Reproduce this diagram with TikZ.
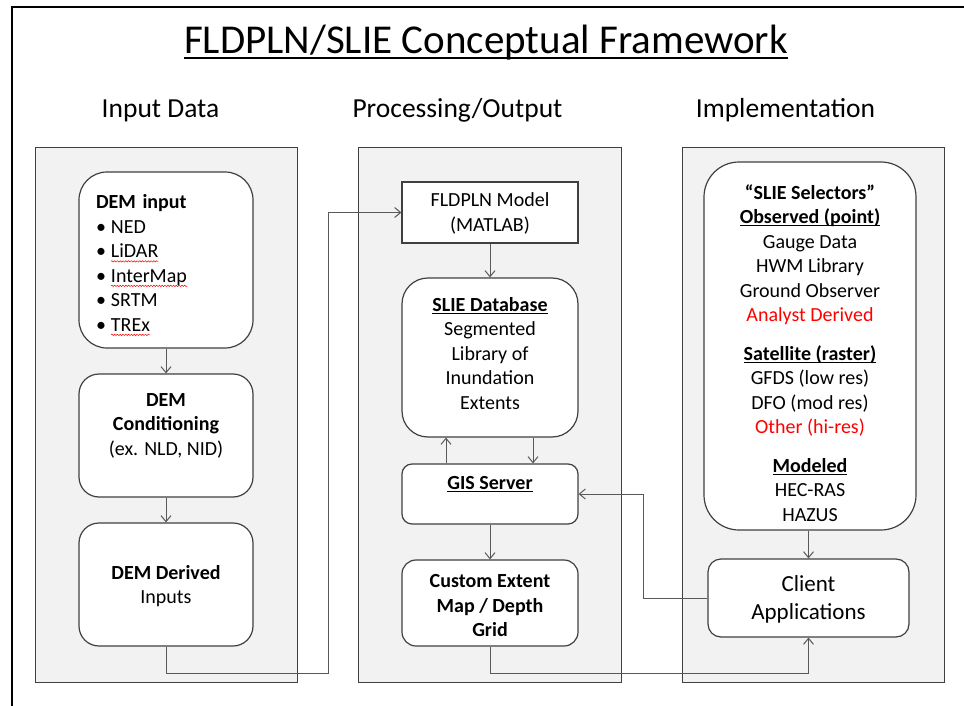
\documentclass[tikz,border=0pt]{standalone}
\usepackage{fontspec}
\setmainfont{Carlito}
\usetikzlibrary{arrows.meta,decorations.pathmorphing}
\definecolor{panelfill}{HTML}{F2F2F2}
\definecolor{edgec}{HTML}{404040}
\definecolor{connc}{HTML}{595959}
\newlength\wavelen
\newcommand\ulx[1]{\leavevmode\setbox0\hbox{#1}\rlap{\rule[-2.6pt]{\wd0}{1.1pt}}\box0}
\newcommand\ultitle[1]{\leavevmode\setbox0\hbox{#1}\rlap{\rule[-5.5pt]{\wd0}{2pt}}\box0}
\newcommand\redwave[1]{\leavevmode\setbox0\hbox{#1}\setlength\wavelen{\wd0}\rlap{\tikz[overlay,baseline=0pt]\draw[red,line width=0.5pt,decorate,decoration={snake,amplitude=0.7pt,segment length=2.8pt}] (0pt,-3.6pt) -- (\wavelen,-3.6pt);}\box0}
\newcommand\bul{\mbox{•}\hspace{5pt}}
\begin{document}
\begin{tikzpicture}[x=1pt,y=-1pt,
  box/.style={draw=edgec, line width=1.2pt, fill=white, inner sep=0pt},
  txt/.style={inner sep=0pt, align=center, font=\fontsize{20}{24.5}\selectfont},
  panel/.style={draw=edgec, line width=0.9pt, fill=panelfill, inner sep=0pt},
  conn/.style={draw=connc, line width=1pt, -{Straight Barb[length=6pt,width=10pt]}},
  heading/.style={font=\fontsize{27.5}{33}\selectfont, anchor=base, inner sep=0pt},
]
\useasboundingbox (0,0) rectangle (964,706);
\fill[white] (0,0) rectangle (964,706);
\draw[line width=2.6pt] (966,7) -- (12,7) -- (12,708);

% title and headings
\node[font=\fontsize{41}{49}\selectfont, anchor=base, inner sep=0pt] (title) at (486,54) {\ultitle{FLDPLN/SLIE Conceptual Framework}};
\node[heading] (hin) at (160.5,118) {Input Data};
\node[heading] (hproc) at (457.5,118) {Processing/Output};
\node[heading] (himp) at (785.5,118) {Implementation};

% panels
\node[panel, minimum width=262, minimum height=535] (pin) at (166,414.5) {};
\node[panel, minimum width=263, minimum height=535] (pproc) at (489.5,414.5) {};
\node[panel, minimum width=262, minimum height=535] (pimp) at (813,414.5) {};

% box shapes
\node[box, rounded corners=28pt, minimum width=174, minimum height=176] (dem) at (166,260) {};
\node[box, rounded corners=20pt, minimum width=174, minimum height=123] (cond) at (166,435.5) {};
\node[box, rounded corners=20pt, minimum width=174, minimum height=123] (derived) at (166,584.5) {};
\node[box, minimum width=176, minimum height=61] (fld) at (490,212.5) {};
\node[box, rounded corners=26pt, minimum width=176, minimum height=159] (slie) at (490,357.5) {};
\node[box, rounded corners=10pt, minimum width=176, minimum height=60] (gis) at (490,494) {};
\node[box, rounded corners=14pt, minimum width=176, minimum height=86] (cust) at (490,603) {};
\node[box, rounded corners=35pt, minimum width=212, minimum height=368] (sel) at (810,346) {};
\node[box, rounded corners=13pt, minimum width=201, minimum height=78] (client) at (808.5,598) {};

% box texts
\node[txt, text width=140, align=left] (demtext) at ([yshift=-3pt]dem.center)
  {\textbf{DEM input}\\\bul NED\\\bul\redwave{LiDAR}\\\bul\redwave{InterMap}\\\bul SRTM\\\bul\redwave{TREx}};
\node[txt] (condtext) at ([yshift=10pt]cond.center)
  {\textbf{DEM}\\\textbf{Conditioning}\\(ex. NLD, NID)};
\node[txt] (derivedtext) at ([yshift=-1.5pt]derived.center)
  {\textbf{DEM Derived}\\Inputs};
\node[txt] (fldtext) at ([yshift=-1pt]fld.center)
  {FLDPLN Model\\(MATLAB)};
\node[txt] (slietext) at ([yshift=4pt]slie.center)
  {\ulx{\textbf{SLIE Database}}\\Segmented\\Library of\\Inundation\\Extents};
\node[txt] (gistext) at ([yshift=10pt]gis.center)
  {\ulx{\textbf{GIS Server}}};
\node[txt] (custtext) at ([yshift=-3pt]cust.center)
  {\textbf{Custom Extent}\\\textbf{Map / Depth}\\\textbf{Grid}};
\node[txt] (seltext) at ([yshift=-7pt]sel.center)
  {\textbf{“SLIE Selectors”}\\\ulx{\textbf{Observed (point)}}\\Gauge Data\\HWM Library\\Ground Observer\\\textcolor{red}{Analyst Derived}\\[14pt]
   \ulx{\textbf{Satellite (raster)}}\\GFDS (low res)\\DFO (mod res)\\\textcolor{red}{Other (hi-res)}\\[14pt]
   \ulx{\textbf{Modeled}}\\HEC-RAS\\HAZUS};
\node[txt, font=\fontsize{23}{28}\selectfont] (clienttext) at ([yshift=-1pt]client.center)
  {Client\\Applications};

% connectors
\coordinate (j1) at (328,673);
\coordinate (j2) at (643,600);
\coordinate (j3) at (0,673);
\draw[conn] (dem.south) -- (cond.north);
\draw[conn] (cond.south) -- (derived.north);
\draw[conn] (derived.south) |- (j1) |- (fld.west);
\draw[conn] (fld.south) -- (slie.north);
\draw[conn] ([xshift=-44pt]gis.north) -- ([xshift=-44pt]slie.south);
\draw[conn] ([xshift=43pt]slie.south) -- ([xshift=43pt]gis.north);
\draw[conn] (gis.south) -- (cust.north);
\draw[conn] (cust.south) |- (j3 -| client.south) -- (client.south);
\draw[conn] (sel.south -| client.north) -- (client.north);
\draw[conn] (client.west) -| (j2 |- gis.east) -- (gis.east);
\end{tikzpicture}
\end{document}
